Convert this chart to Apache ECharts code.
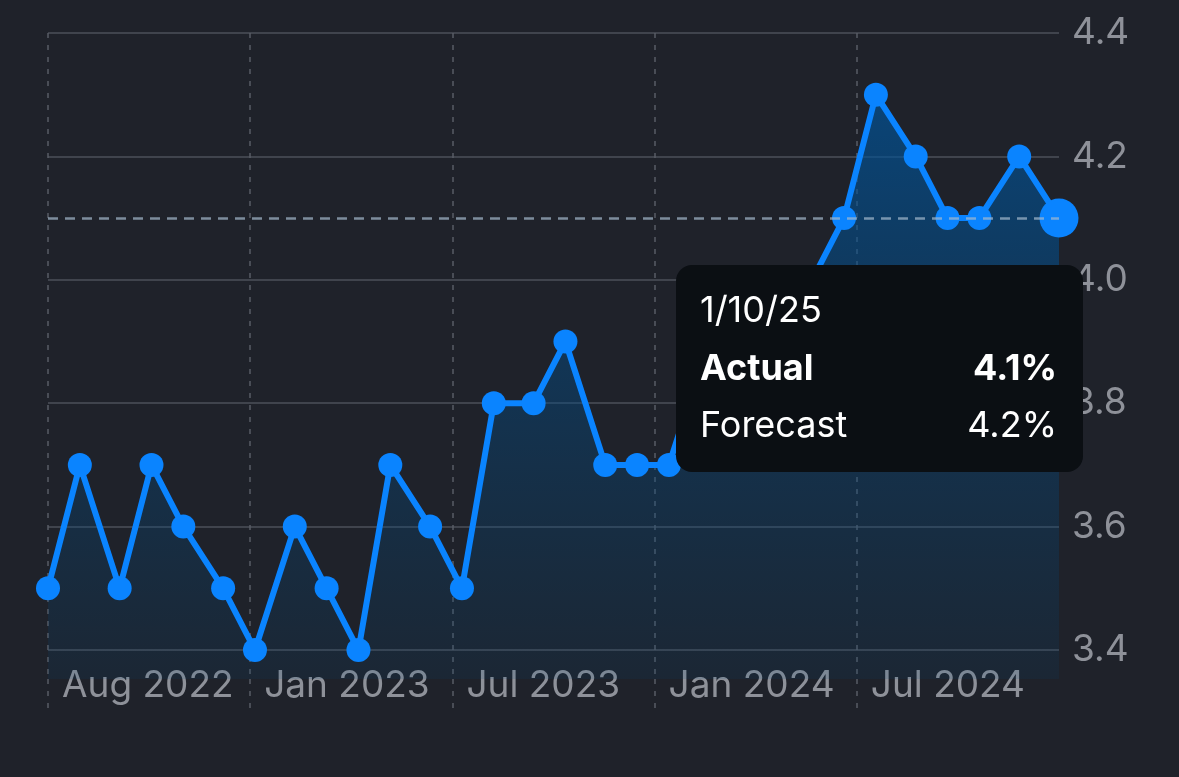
<!DOCTYPE html>
<html>
<head>
<meta charset="utf-8">
<script src="https://cdn.jsdelivr.net/npm/echarts@6/dist/echarts.min.js"></script>
<style>
  html, body { margin: 0; padding: 0; background: #1f222a; }
  #chart { width: 1179px; height: 777px; }
</style>
</head>
<body>
<div id="chart"></div>
<script>
// ---- data ----
const releaseDates = [
  '2022-08-05','2022-09-02','2022-10-07','2022-11-04','2022-12-02',
  '2023-01-06','2023-02-03','2023-03-10','2023-04-07','2023-05-05','2023-06-02',
  '2023-07-07','2023-08-04','2023-09-01','2023-10-06','2023-11-03','2023-12-08',
  '2024-01-05','2024-02-02','2024-03-08','2024-04-05','2024-05-03','2024-06-07',
  '2024-07-05','2024-08-02','2024-09-06','2024-10-04','2024-11-01','2024-12-06',
  '2025-01-10'
];
const actualValues = [
  3.5, 3.7, 3.5, 3.7, 3.6,
  3.5, 3.4, 3.6, 3.5, 3.4, 3.7,
  3.6, 3.5, 3.8, 3.8, 3.9, 3.7,
  3.7, 3.7, 3.9, 3.8, 3.9, 4.0,
  4.1, 4.3, 4.2, 4.1, 4.1, 4.2,
  4.1
];
const xTickLabels = ['Aug 2022', 'Jan 2023', 'Jul 2023', 'Jan 2024', 'Jul 2024'];
const yTickValues = [3.4, 3.6, 3.8, 4.0, 4.2, 4.4];
const selectedForecast = 4.2;
const tooltipLabels = ['Actual', 'Forecast'];

// ---- derived ----
const DAY = 86400000;
const toTime = s => { const p = s.split('-').map(Number); return Date.UTC(p[0], p[1] - 1, p[2]); };
const t0 = toTime(releaseDates[0]);
const dayOffsets = releaseDates.map(s => Math.round((toTime(s) - t0) / DAY));
const span = dayOffsets[dayOffsets.length - 1];
const step = span / 5;
const xTickValues = xTickLabels.map((_, i) => i * step);
const lastIdx = actualValues.length - 1;
const lastDate = new Date(toTime(releaseDates[lastIdx]));
const tipDate = (lastDate.getUTCMonth() + 1) + '/' + lastDate.getUTCDate() + '/' + String(lastDate.getUTCFullYear()).slice(2);

const seriesData = dayOffsets.map((d, i) => {
  const item = { value: [d, actualValues[i]] };
  if (i === lastIdx) item.symbolSize = 39;
  return item;
});

const FONT = 'Inter, "Noto Sans", sans-serif';
const labelColor = '#8e9199';

const chart = echarts.init(document.getElementById('chart'), null, { renderer: 'canvas' });
chart.setOption({
  backgroundColor: '#1f222a',
  animation: false,
  grid: { left: 48, right: 120, top: 33, bottom: 98, containLabel: false },
  xAxis: {
    type: 'value',
    min: 0,
    max: span,
    axisLine: { show: false },
    axisTick: {
      show: true,
      customValues: xTickValues,
      length: 29,
      inside: false,
      lineStyle: { color: '#585c65', width: 1.5, type: [5, 7] }
    },
    splitLine: {
      show: true,
      lineStyle: { color: '#585c65', width: 1.5, type: [5, 7] }
    },
    axisLabel: {
      customValues: xTickValues,
      color: labelColor,
      fontFamily: FONT,
      fontSize: 37,
      align: 'left',
      verticalAlign: 'middle',
      padding: [0, 0, 0, 14],
      margin: 7,
      formatter: v => xTickLabels[Math.round(v / step)] || ''
    }
  },
  yAxis: {
    type: 'value',
    position: 'right',
    min: 3.353,
    max: 4.4,
    axisLine: { show: false },
    axisTick: { show: false, customValues: yTickValues },
    splitLine: { show: true, lineStyle: { color: '#4d515a', width: 1.5 } },
    axisLabel: {
      customValues: yTickValues,
      color: labelColor,
      fontFamily: FONT,
      fontSize: 37,
      align: 'left',
      margin: 13,
      formatter: v => v.toFixed(1)
    }
  },
  series: [{
    type: 'line',
    data: seriesData,
    symbol: 'circle',
    symbolSize: 24,
    showSymbol: true,
    lineStyle: { color: '#0a84ff', width: 6 },
    itemStyle: { color: '#0a84ff' },
    areaStyle: {
      color: new echarts.graphic.LinearGradient(0, 0, 0, 1, [
        { offset: 0, color: 'rgba(0,84,155,0.98)' },
        { offset: 1, color: 'rgba(0,72,125,0.18)' }
      ])
    },
    markLine: {
      silent: true,
      symbol: 'none',
      label: { show: false },
      lineStyle: { color: 'rgba(165,185,205,0.7)', width: 2.5, type: [10, 7] },
      data: [{ yAxis: actualValues[lastIdx] }]
    }
  }],
  graphic: [
    { type: 'rect', z: 100, zlevel: 1, shape: { x: 676, y: 265, width: 407, height: 207, r: 16 }, style: { fill: '#0b0f13' } },
    { type: 'text', z: 101, zlevel: 1, x: 700, y: 311, style: { text: tipDate, fill: '#ffffff', font: '400 36px ' + FONT, verticalAlign: 'middle', align: 'left' } },
    { type: 'text', z: 101, zlevel: 1, x: 700, y: 369, style: { text: tooltipLabels[0], fill: '#ffffff', font: '700 36px ' + FONT, verticalAlign: 'middle', align: 'left' } },
    { type: 'text', z: 101, zlevel: 1, x: 1057, y: 369, style: { text: actualValues[lastIdx].toFixed(1) + '%', fill: '#ffffff', font: '700 36px ' + FONT, verticalAlign: 'middle', align: 'right' } },
    { type: 'text', z: 101, zlevel: 1, x: 700, y: 426, style: { text: tooltipLabels[1], fill: '#ffffff', font: '400 36px ' + FONT, verticalAlign: 'middle', align: 'left' } },
    { type: 'text', z: 101, zlevel: 1, x: 1057, y: 426, style: { text: selectedForecast.toFixed(1) + '%', fill: '#ffffff', font: '400 36px ' + FONT, verticalAlign: 'middle', align: 'right' } }
  ]
});
</script>
</body>
</html>
